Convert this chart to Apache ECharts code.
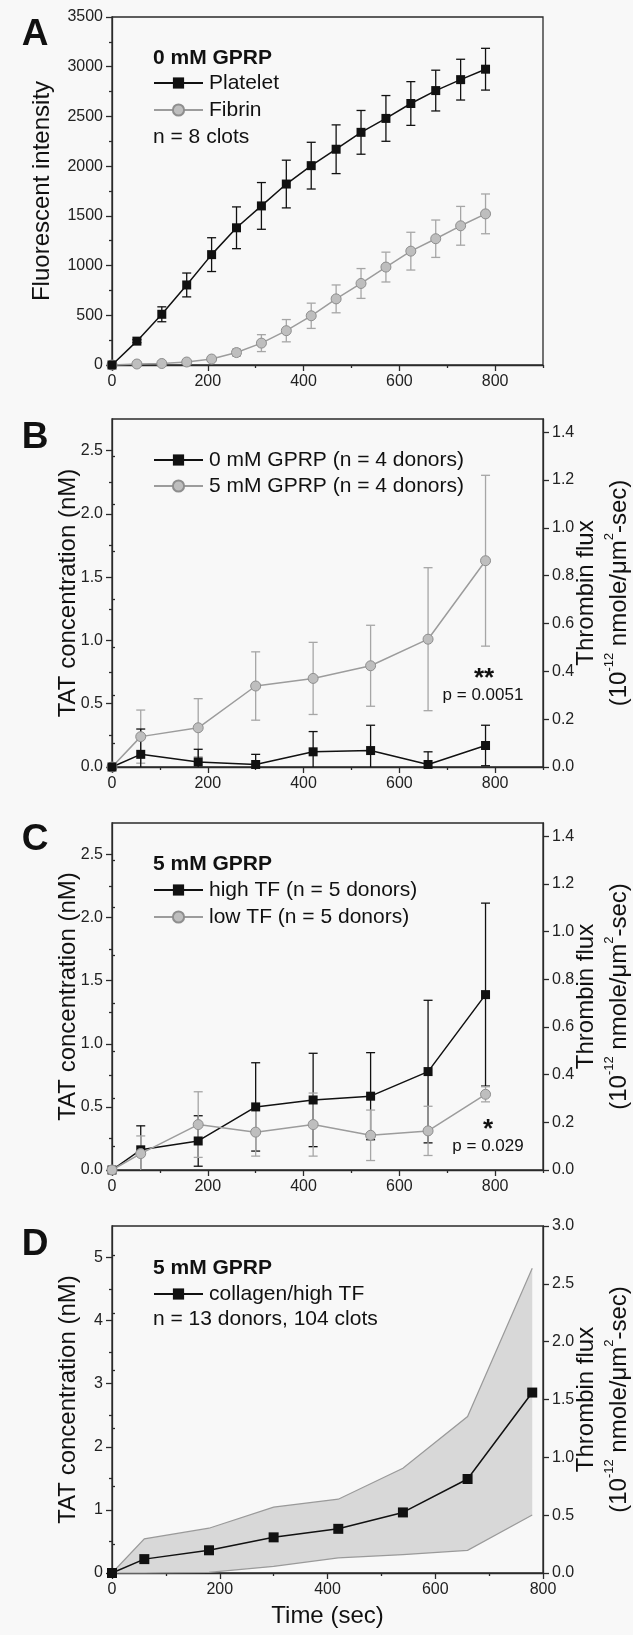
<!DOCTYPE html>
<html>
<head>
<meta charset="utf-8">
<script src="https://cdn.jsdelivr.net/npm/echarts@6/dist/echarts.min.js"></script>
<style>
html,body{margin:0;padding:0;background:#f8f8f8;}
#chart{width:633px;height:1635px;}
</style>
</head>
<body>
<div id="chart"></div>
<script>
// ---------------- DATA ----------------
// Panel A
const timeA = [0, 52, 104, 156, 208, 260, 312, 364, 416, 468, 520, 572, 624, 676, 728, 780];
const plateletA = [0, 240, 510, 805, 1110, 1380, 1600, 1820, 2005, 2170, 2340, 2480, 2630, 2760, 2870, 2975];
const plateletErrA = [0, 15, 75, 120, 170, 210, 235, 240, 235, 245, 220, 230, 220, 205, 205, 210];
const fibrinA = [0, 10, 15, 30, 60, 125, 220, 345, 495, 665, 820, 985, 1145, 1270, 1400, 1520];
const fibrinErrA = [0, 5, 8, 12, 20, 35, 85, 112, 127, 140, 150, 150, 190, 188, 195, 200];

// Panel B
const timeB = [0, 60, 180, 300, 420, 540, 660, 780];
const gprp0B = [0, 0.10, 0.04, 0.02, 0.12, 0.13, 0.02, 0.17];
const gprp0ErrB = [0, 0.20, 0.10, 0.08, 0.16, 0.20, 0.10, 0.16];
const gprp5B = [0, 0.24, 0.31, 0.64, 0.70, 0.80, 1.01, 1.63];
const gprp5ErrB = [0, 0.21, 0.23, 0.27, 0.285, 0.32, 0.565, 0.675];

// Panel C
const timeC = [0, 60, 180, 300, 420, 540, 660, 780];
const highTF = [0, 0.16, 0.23, 0.50, 0.555, 0.585, 0.78, 1.39];
const highTFErr = [0, 0.19, 0.20, 0.35, 0.37, 0.345, 0.565, 0.725];
const lowTF = [0, 0.13, 0.36, 0.30, 0.36, 0.275, 0.31, 0.60];
const lowTFErr = [0, 0.14, 0.26, 0.19, 0.25, 0.20, 0.195, 0.06];

// Panel D
const timeD = [0, 60, 180, 300, 420, 540, 660, 780];
const collagenD = [0, 0.22, 0.36, 0.565, 0.70, 0.96, 1.49, 2.86];
const upperD = [0, 0.54, 0.71, 1.045, 1.17, 1.66, 2.48, 4.83];
const lowerD = [0, 0, 0.01, 0.105, 0.24, 0.29, 0.36, 0.92];

// Ticks
const xMajor = [0, 200, 400, 600, 800];
const xMinorABC = [100, 300, 500, 700, 900];
const xMinorD = [100, 300, 500, 700];
const yMajorA = [0, 500, 1000, 1500, 2000, 2500, 3000, 3500];
const yMinorA = [250, 750, 1250, 1750, 2250, 2750, 3250];
const yMajorBC = [0, 0.5, 1.0, 1.5, 2.0, 2.5];
const yMinorBC = [0.25, 0.75, 1.25, 1.75, 2.25];
const rMajorBC = [0, 0.2, 0.4, 0.6, 0.8, 1.0, 1.2, 1.4];
const rMinorBC = [0.1, 0.3, 0.5, 0.7, 0.9, 1.1, 1.3];
const yMajorD = [0, 1, 2, 3, 4, 5];
const yMinorD = [0.5, 1.5, 2.5, 3.5, 4.5];
const rMajorD = [0, 0.5, 1.0, 1.5, 2.0, 2.5, 3.0];
const rMinorD = [0.25, 0.75, 1.25, 1.75, 2.25, 2.75];

// ---------------- STYLE ----------------
const FONT = 'Liberation Sans, Arial, Helvetica, sans-serif';
const AX = '#2a2a2a';
const BLACK = '#111111';
const GRAYLINE = '#9c9c9c';
const GRAYFILL = '#bebebe';
const GRAYBORDER = '#8e8e8e';
const GRAYERR = '#a6a6a6';

const grids = [
  {left: 112, top: 17, width: 431, height: 348},
  {left: 112, top: 419, width: 431, height: 348},
  {left: 112, top: 823, width: 431, height: 347},
  {left: 112, top: 1226, width: 431, height: 347}
].map(g => Object.assign({show: true, borderColor: AX, borderWidth: 1.3, backgroundColor: 'transparent',
  containLabel: false, outerBoundsMode: 'none'}, g));

const nameStyle = {fontSize: 24, color: BLACK, fontFamily: FONT};
const rightName = 'Thrombin flux\n(10{sup|-12} nmole/\u03bcm{sup|2}-sec)';
const rightNameStyle = {
  fontSize: 24, color: BLACK, fontFamily: FONT, lineHeight: 33,
  rich: {sup: {fontSize: 13, color: BLACK, fontFamily: FONT, verticalAlign: 'top', lineHeight: 21}}
};

function mainAxis(type, gi, pos, max, majors, fmt, extra) {
  const a = {
    type: 'value', gridIndex: gi, min: 0, max: max, position: pos,
    nameMoveOverlap: false,
    axisLine: {show: true, onZero: false, lineStyle: {color: AX, width: 1.3}},
    axisTick: {show: true, inside: false, length: 6, customValues: majors, lineStyle: {color: AX, width: 1.3}},
    axisLabel: {show: true, customValues: majors, margin: 9, fontSize: 16, color: '#222', fontFamily: FONT, formatter: fmt},
    splitLine: {show: false}
  };
  return Object.assign(a, extra || {});
}
function minorAxis(gi, pos, max, minors) {
  return {
    type: 'value', gridIndex: gi, min: 0, max: max, position: pos,
    axisLine: {show: false},
    axisTick: {show: true, inside: false, length: 3, customValues: minors, lineStyle: {color: AX, width: 1.3}},
    axisLabel: {show: false}, splitLine: {show: false}
  };
}
const fInt = v => String(Math.round(v));
const f1 = v => v.toFixed(1);

const leftName = {name: 'TAT concentration (nM)', nameLocation: 'middle', nameGap: 32, nameTextStyle: nameStyle};
const rightNameOpt = {name: rightName, nameLocation: 'middle', nameGap: 27, nameTextStyle: rightNameStyle};

const xAxis = [
  mainAxis('x', 0, 'bottom', 900, xMajor, fInt), minorAxis(0, 'bottom', 900, xMinorABC),
  mainAxis('x', 1, 'bottom', 900, xMajor, fInt), minorAxis(1, 'bottom', 900, xMinorABC),
  mainAxis('x', 2, 'bottom', 900, xMajor, fInt), minorAxis(2, 'bottom', 900, xMinorABC),
  mainAxis('x', 3, 'bottom', 800, xMajor, fInt, {name: 'Time (sec)', nameLocation: 'middle', nameGap: 31, nameTextStyle: nameStyle}),
  minorAxis(3, 'bottom', 800, xMinorD)
];
const yAxis = [
  // A: 0,1
  mainAxis('y', 0, 'left', 3500, yMajorA, fInt, {name: 'Fluorescent intensity', nameLocation: 'middle', nameGap: 58, nameTextStyle: nameStyle}),
  minorAxis(0, 'left', 3500, yMinorA),
  // B: 2,3,4,5
  mainAxis('y', 1, 'left', 2.75, yMajorBC, f1, leftName),
  minorAxis(1, 'left', 2.75, yMinorBC),
  mainAxis('y', 1, 'right', 1.455, rMajorBC, f1, rightNameOpt),
  minorAxis(1, 'right', 1.455, rMinorBC),
  // C: 6,7,8,9
  mainAxis('y', 2, 'left', 2.75, yMajorBC, f1, leftName),
  minorAxis(2, 'left', 2.75, yMinorBC),
  mainAxis('y', 2, 'right', 1.455, rMajorBC, f1, rightNameOpt),
  minorAxis(2, 'right', 1.455, rMinorBC),
  // D: 10,11,12,13
  mainAxis('y', 3, 'left', 5.5, yMajorD, fInt, leftName),
  minorAxis(3, 'left', 5.5, yMinorD),
  mainAxis('y', 3, 'right', 3.0, rMajorD, f1, rightNameOpt),
  minorAxis(3, 'right', 3.0, rMinorD)
];

// ---------------- SERIES HELPERS ----------------
function lineSeries(name, xi, yi, xs, ys, kind) {
  const black = kind === 'black';
  return {
    type: 'line', name: name, xAxisIndex: xi, yAxisIndex: yi,
    data: xs.map((x, i) => [x, ys[i]]),
    symbol: black ? 'rect' : 'circle',
    symbolSize: black ? 9 : 10,
    showAllSymbol: true,
    clip: false,
    z: 5,
    lineStyle: {color: black ? BLACK : GRAYLINE, width: 1.5},
    itemStyle: black ? {color: BLACK, borderColor: BLACK, borderWidth: 0}
                     : {color: GRAYFILL, borderColor: GRAYBORDER, borderWidth: 1},
    emphasis: {disabled: true},
    animation: false
  };
}
function errSeries(xi, yi, xs, ys, es, color) {
  return {
    type: 'custom', xAxisIndex: xi, yAxisIndex: yi,
    data: xs.map((x, i) => [x, ys[i], es[i]]),
    encode: {x: 0, y: 1},
    z: 3, silent: true, animation: false,
    renderItem: function (params, api) {
      const x = api.value(0), y = api.value(1), e = api.value(2);
      if (!e) return null;
      const lowVal = y - e;
      const lo = Math.max(lowVal, 0);
      const pTop = api.coord([x, y + e]);
      const pBot = api.coord([x, lo]);
      const hw = 4.5;
      const st = {stroke: color, lineWidth: 1.3};
      const children = [
        {type: 'line', shape: {x1: pTop[0], y1: pTop[1], x2: pBot[0], y2: pBot[1]}, style: st},
        {type: 'line', shape: {x1: pTop[0] - hw, y1: pTop[1], x2: pTop[0] + hw, y2: pTop[1]}, style: st}
      ];
      if (lowVal >= 0) {
        children.push({type: 'line', shape: {x1: pBot[0] - hw, y1: pBot[1], x2: pBot[0] + hw, y2: pBot[1]}, style: st});
      }
      return {type: 'group', children: children};
    }
  };
}
function bandSeries(xi, yi, xs, lo, hi) {
  return {
    type: 'custom', xAxisIndex: xi, yAxisIndex: yi,
    data: [[xs[0], lo[0]]],
    encode: {x: 0, y: 1},
    z: 1, silent: true, animation: false,
    renderItem: function (params, api) {
      const up = xs.map((x, i) => api.coord([x, hi[i]]));
      const dn = xs.map((x, i) => api.coord([x, lo[i]]));
      const poly = up.concat(dn.slice().reverse());
      return {type: 'group', children: [
        {type: 'polygon', shape: {points: poly}, style: {fill: '#d8d8d8', stroke: 'none'}},
        {type: 'polyline', shape: {points: up}, style: {stroke: '#9a9a9a', lineWidth: 1.2, fill: 'none'}},
        {type: 'polyline', shape: {points: dn}, style: {stroke: '#9a9a9a', lineWidth: 1.2, fill: 'none'}}
      ]};
    }
  };
}

const series = [
  // A
  errSeries(0, 0, timeA, plateletA, plateletErrA, BLACK),
  errSeries(0, 0, timeA, fibrinA, fibrinErrA, GRAYERR),
  lineSeries('Fibrin', 0, 0, timeA, fibrinA, 'gray'),
  lineSeries('Platelet', 0, 0, timeA, plateletA, 'black'),
  // B
  errSeries(2, 2, timeB, gprp5B, gprp5ErrB, GRAYERR),
  errSeries(2, 2, timeB, gprp0B, gprp0ErrB, BLACK),
  lineSeries('5 mM GPRP (n = 4 donors)', 2, 2, timeB, gprp5B, 'gray'),
  lineSeries('0 mM GPRP (n = 4 donors)', 2, 2, timeB, gprp0B, 'black'),
  // C
  errSeries(4, 6, timeC, highTF, highTFErr, BLACK),
  errSeries(4, 6, timeC, lowTF, lowTFErr, GRAYERR),
  lineSeries('high TF (n = 5 donors)', 4, 6, timeC, highTF, 'black'),
  lineSeries('low TF (n = 5 donors)', 4, 6, timeC, lowTF, 'gray'),
  // D
  bandSeries(6, 10, timeD, lowerD, upperD),
  Object.assign(lineSeries('collagen/high TF', 6, 10, timeD, collagenD, 'black'), {symbolSize: 10})
];
// C: gray drawn over black as in reference
series[11].z = 6;

function legend(names, top, gap) {
  return {
    data: names, orient: 'vertical', left: 153, top: top, padding: 0,
    itemWidth: 49, itemHeight: 14, itemGap: gap,
    selectedMode: false,
    textStyle: {fontSize: 21, color: BLACK, fontFamily: FONT, lineHeight: 22, padding: [0, 0, 0, 1]}
  };
}
const legends = [
  legend(['Platelet', 'Fibrin'], 72, 5),
  legend(['0 mM GPRP (n = 4 donors)', '5 mM GPRP (n = 4 donors)'], 449, 4),
  legend(['high TF (n = 5 donors)', 'low TF (n = 5 donors)'], 879, 5),
  legend(['collagen/high TF'], 1283, 5)
];

function txt(text, x, y, font, align) {
  return {type: 'text', x: x, y: y, silent: true, z: 10,
    style: {text: text, font: font, fill: BLACK, align: align || 'left', verticalAlign: 'middle'}};
}
const BOLD21 = 'bold 21px ' + FONT;
const REG21 = '21px ' + FONT;
const LETTER = 'bold 37px ' + FONT;
const graphics = [
  txt('A', 35, 35, LETTER, 'center'),
  txt('B', 35, 438, LETTER, 'center'),
  txt('C', 35, 840, LETTER, 'center'),
  txt('D', 35, 1245, LETTER, 'center'),
  txt('0 mM GPRP', 153, 58, BOLD21),
  txt('n = 8 clots', 153, 137, REG21),
  txt('5 mM GPRP', 153, 864, BOLD21),
  txt('5 mM GPRP', 153, 1268, BOLD21),
  txt('n = 13 donors, 104 clots', 153, 1319, REG21),
  txt('**', 484, 679, 'bold 26px ' + FONT, 'center'),
  txt('p = 0.0051', 483, 695, '17px ' + FONT, 'center'),
  txt('*', 488, 1130, 'bold 26px ' + FONT, 'center'),
  txt('p = 0.029', 488, 1146, '17px ' + FONT, 'center')
];

const chart = echarts.init(document.getElementById('chart'), null, {renderer: 'canvas', width: 633, height: 1635});
chart.setOption({
  backgroundColor: '#f8f8f8',
  animation: false,
  textStyle: {fontFamily: FONT},
  grid: grids,
  xAxis: xAxis,
  yAxis: yAxis,
  legend: legends,
  series: series,
  graphic: graphics
});
</script>
</body>
</html>
